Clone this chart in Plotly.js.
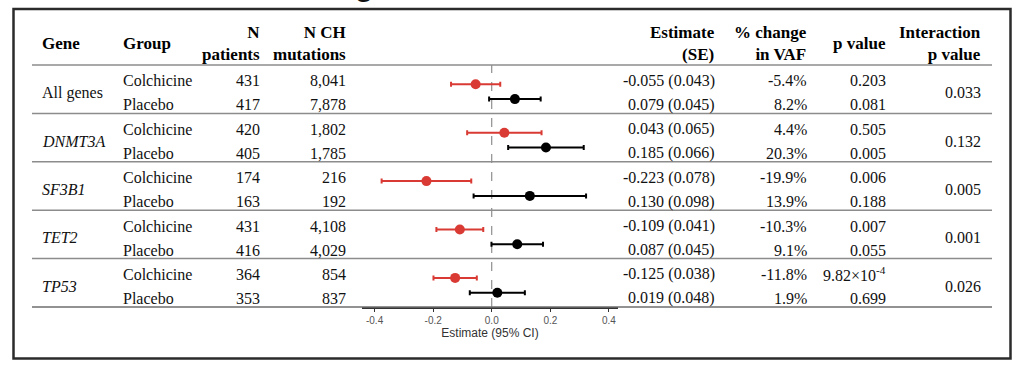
<!DOCTYPE html>
<html>
<head>
<meta charset="utf-8">
<script src="https://cdn.plot.ly/plotly-3.0.1.min.js"></script>
<style>html,body{margin:0;padding:0;background:#fff;}#chart{width:1024px;height:366px;}</style>
</head>
<body>
<div id="chart"></div>
<script>
// ---------- data ----------
const genes = ["All genes", "DNMT3A", "SF3B1", "TET2", "TP53"];
const geneItalic = [false, true, true, true, true];
const groups = ["Colchicine", "Placebo"];
const nPatients = ["431", "417", "420", "405", "174", "163", "431", "416", "364", "353"];
const nMutations = ["8,041", "7,878", "1,802", "1,785", "216", "192", "4,108", "4,029", "854", "837"];
const estimate = [-0.055, 0.079, 0.043, 0.185, -0.223, 0.130, -0.109, 0.087, -0.125, 0.019];
const stdErr = [0.043, 0.045, 0.065, 0.066, 0.078, 0.098, 0.041, 0.045, 0.038, 0.048];
const ciLow = [-0.139, -0.009, -0.084, 0.056, -0.376, -0.062, -0.189, -0.001, -0.199, -0.075];
const ciHigh = [0.029, 0.167, 0.170, 0.314, -0.070, 0.322, -0.029, 0.175, -0.051, 0.113];
const pctChange = ["-5.4%", "8.2%", "4.4%", "20.3%", "-19.9%", "13.9%", "-10.3%", "9.1%", "-11.8%", "1.9%"];
const pValue = ["0.203", "0.081", "0.505", "0.005", "0.006", "0.188", "0.007", "0.055", "9.82×10<sup>-4</sup>", "0.699"];
const interactionP = ["0.033", "0.132", "0.005", "0.001", "0.026"];
const tickVals = [-0.4, -0.2, 0, 0.2, 0.4];
const tickText = ["-0.4", "-0.2", "0.0", "0.2", "0.4"];
const headers = {
  gene: "Gene", group: "Group", nPat: "N<br>patients", nMut: "N CH<br>mutations",
  est: "Estimate<br>(SE)", pct: "% change<br>in VAF", p: "p value", inter: "Interaction<br>p value"
};
const axisTitle = "Estimate (95% CI)";

// ---------- layout constants ----------
const W = 1024, H = 366;
const SERIF = "Liberation Serif, Times New Roman, serif";
const SANS = "Liberation Sans, Arial, sans-serif";
const RED = "#d93b34", BLACK = "#000000";
const TABLE_TOP = 65, GROUP_H = 48.4, TABLE_L = 32, TABLE_R = 992;
const PLOT_L = 362, PLOT_R = 618, PLOT_BOTTOM = 307;
const textRowY = [80.8, 104.8];     // within-group text centers (px from top) for group 0
const markerRowY = [19.3, 34.1];    // within-group marker offsets in plot y-units
const px = (x) => x / W;
const py = (y) => 1 - y / H;

// ---------- forest traces ----------
const traces = groups.map((g, k) => {
  const idx = genes.map((_, gi) => gi * 2 + k);
  const col = k === 0 ? RED : BLACK;
  return {
    type: "scatter", mode: "markers", name: g, showlegend: false,
    x: idx.map(i => estimate[i]),
    y: genes.map((_, gi) => markerRowY[k] + gi * GROUP_H),
    marker: {color: col, size: 10, line: {width: 0}},
    error_x: {
      type: "data", symmetric: false,
      array: idx.map(i => +(ciHigh[i] - estimate[i]).toFixed(4)),
      arrayminus: idx.map(i => +(estimate[i] - ciLow[i]).toFixed(4)),
      color: col, thickness: 2, width: 2.5
    },
    hoverinfo: "skip"
  };
});

// ---------- annotations (table text) ----------
const ann = [];
const txt = (x, y, text, opt) => ann.push(Object.assign({
  xref: "paper", yref: "paper", x: px(x), y: py(y), text: text, showarrow: false,
  xanchor: "right", yanchor: "middle", align: "right",
  font: {family: SERIF, size: 16, color: "#111"}
}, opt || {}));
const bold = (s) => "<b>" + s + "</b>";
const hdrFont = {family: SERIF, size: 17, color: "#000"};
const HY = 43;
txt(40, HY, bold(headers.gene), {xanchor: "left", align: "left", font: hdrFont});
txt(121, HY, bold(headers.group), {xanchor: "left", align: "left", font: hdrFont});
txt(262, HY, bold(headers.nPat), {font: hdrFont});
txt(348, HY, bold(headers.nMut), {font: hdrFont});
txt(717, HY, bold(headers.est), {font: hdrFont});
txt(809, HY, bold(headers.pct), {font: hdrFont});
txt(888, HY, bold(headers.p), {font: hdrFont});
txt(983, HY, bold(headers.inter), {font: hdrFont});

genes.forEach((g, gi) => {
  const off = gi * GROUP_H;
  const midY = (textRowY[0] + textRowY[1]) / 2 + off;
  txt(40, midY, geneItalic[gi] ? "<i>" + g + "</i>" : g, {xanchor: "left", align: "left"});
  txt(983, midY, interactionP[gi]);
  groups.forEach((grp, k) => {
    const i = gi * 2 + k;
    const y = textRowY[k] + off;
    txt(121, y, grp, {xanchor: "left", align: "left"});
    txt(262, y, nPatients[i]);
    txt(348, y, nMutations[i]);
    txt(717, y, estimate[i].toFixed(3) + " (" + stdErr[i].toFixed(3) + ")");
    txt(809, y, pctChange[i]);
    txt(888, y, pValue[i]);
  });
});

// cut-off heading fragment at the very top (only its descender shows in the reference)
ann.push({xref: "paper", yref: "paper", x: px(364), y: py(-14), text: "<b>g</b>", showarrow: false,
  xanchor: "center", yanchor: "middle", font: {family: SANS, size: 30, color: "#111"}});

// ---------- shapes ----------
const shapes = [];
const hline = (y, col, w) => shapes.push({type: "line", xref: "paper", yref: "paper",
  x0: px(TABLE_L), x1: px(TABLE_R), y0: py(y), y1: py(y), line: {color: col, width: w}});
hline(TABLE_TOP, "#8c8c8c", 1.5);
for (let g = 1; g < genes.length; g++) hline(TABLE_TOP + g * GROUP_H, "#8c8c8c", 1.5);
hline(PLOT_BOTTOM, "#6e6e6e", 1.5);
shapes.push({type: "line", xref: "x", yref: "y domain", x0: 0, x1: 0, y0: 0, y1: 1,
  line: {color: "#777", width: 1, dash: "dash"}, layer: "below"});
shapes.push({type: "rect", xref: "paper", yref: "paper", x0: px(13.5), x1: px(1010.5), y0: py(9), y1: py(358.5),
  line: {color: "#2b2b2b", width: 2.5}, fillcolor: "rgba(0,0,0,0)"});

const layout = {
  width: W, height: H, margin: {l: 0, r: 0, t: 0, b: 0},
  paper_bgcolor: "#fff", plot_bgcolor: "rgba(0,0,0,0)",
  showlegend: false,
  xaxis: {
    domain: [px(PLOT_L), px(PLOT_R)], range: [-0.443, 0.431],
    tickvals: tickVals, ticktext: tickText, ticks: "outside", ticklen: 3, tickwidth: 1, tickcolor: "#333",
    showline: true, linecolor: "#333", linewidth: 2, showgrid: false, zeroline: false,
    tickfont: {family: SANS, size: 10, color: "#555"},
    title: {text: axisTitle, font: {family: SANS, size: 12, color: "#333"}, standoff: 2},
    automargin: false, fixedrange: true
  },
  yaxis: {
    domain: [py(PLOT_BOTTOM), py(TABLE_TOP)], range: [242, 0],
    showticklabels: false, showgrid: false, zeroline: false, showline: false, ticks: "",
    automargin: false, fixedrange: true
  },
  annotations: ann, shapes: shapes
};

Plotly.newPlot("chart", traces, layout, {staticPlot: true, displayModeBar: false});
</script>
</body>
</html>
